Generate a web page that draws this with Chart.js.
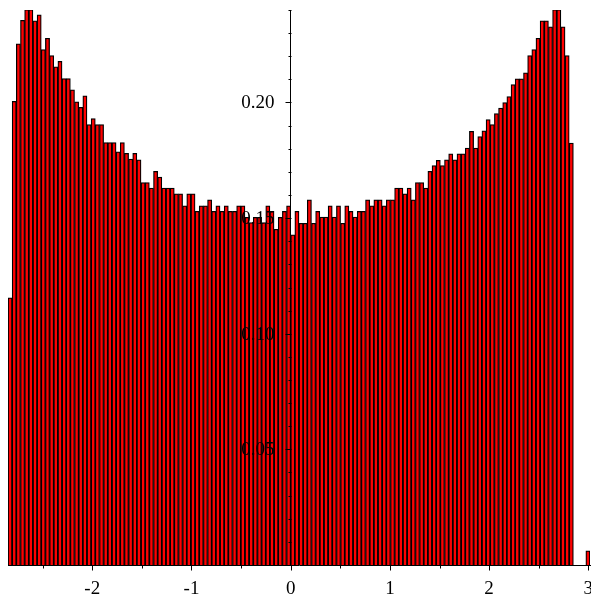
<!DOCTYPE html>
<html>
<head>
<meta charset="utf-8">
<script src="https://cdn.jsdelivr.net/npm/chart.js@4.4.1/dist/chart.umd.min.js"></script>
<style>
  html, body { margin: 0; padding: 0; background: #fff; }
  canvas { display: block; }
</style>
</head>
<body>
<canvas id="histo" width="591" height="595"></canvas>
<script>
// histogram bins: 140 equal bins, bin 68 starts at 0
const binWidth = 0.0419;
const binFirstIndex = -68;
const binCount = 140;

// bar heights (density), left to right
const density = [
  0.1155, 0.2005, 0.2254, 0.2355, 0.2402, 0.2402, 0.2353, 0.2379, 0.2229, 0.2278,
  0.2203, 0.2154, 0.2178, 0.2103, 0.2103, 0.2055, 0.2003, 0.1979, 0.2029, 0.1904,
  0.1930, 0.1904, 0.1904, 0.1827, 0.1827, 0.1827, 0.1787, 0.1827, 0.1780, 0.1755,
  0.1780, 0.1752, 0.1654, 0.1654, 0.1630, 0.1702, 0.1677, 0.1630, 0.1630, 0.1630,
  0.1605, 0.1605, 0.1553, 0.1605, 0.1605, 0.1529, 0.1553, 0.1553, 0.1579, 0.1529,
  0.1553, 0.1529, 0.1553, 0.1529, 0.1529, 0.1553, 0.1553, 0.1503, 0.1481, 0.1503,
  0.1503, 0.1481, 0.1553, 0.1529, 0.1452, 0.1503, 0.1529, 0.1553, 0.1428, 0.1529,
  0.1478, 0.1478, 0.1579, 0.1478, 0.1529, 0.1504, 0.1504, 0.1553, 0.1504, 0.1553,
  0.1478, 0.1553, 0.1529, 0.1504, 0.1529, 0.1529, 0.1579, 0.1553, 0.1579, 0.1579,
  0.1553, 0.1579, 0.1579, 0.1630, 0.1630, 0.1605, 0.1630, 0.1579, 0.1654, 0.1654,
  0.1630, 0.1702, 0.1727, 0.1750, 0.1727, 0.1752, 0.1778, 0.1752, 0.1778, 0.1778,
  0.1803, 0.1875, 0.1803, 0.1853, 0.1878, 0.1926, 0.1904, 0.1952, 0.1976, 0.2000,
  0.2026, 0.2077, 0.2102, 0.2102, 0.2128, 0.2203, 0.2229, 0.2278, 0.2353, 0.2353,
  0.2327, 0.2402, 0.2402, 0.2327, 0.2203, 0.1825, 0, 0, 0, 0.0061
];

// axis ticks
const xMajorStep = 1;
const xMinorStep = 0.5;
const yMajorStep = 0.05;
const yMinorStep = 0.01;
const yMax = 0.24;

const binCenters = [];
for (let i = 0; i < binCount; i++) {
  binCenters.push((binFirstIndex + i + 0.5) * binWidth);
}
const xMin = binFirstIndex * binWidth;
const xMax = (binFirstIndex + binCount) * binWidth;

const tickFont = { family: "Liberation Serif", size: 19 };

// no extra room for labels hanging past the plot edges
const noScalePadding = scale => {
  scale.paddingTop = 0;
  scale.paddingBottom = 0;
  scale.paddingLeft = 0;
  scale.paddingRight = 0;
};

// tick marks on both axes, and the y labels left of the x=0 axis
const axisDecor = {
  id: "axisDecor",
  afterDraw(chart){
    const { ctx, scales: { x, y } } = chart;
    const x0 = Math.round(x.getPixelForValue(0)) + 0.5;
    const y0 = Math.round(y.getPixelForValue(0)) + 0.5;
    ctx.save();
    ctx.strokeStyle = "#000";
    ctx.lineWidth = 1;
    ctx.beginPath();
    for (let k = Math.ceil(xMin / xMinorStep); k * xMinorStep <= xMax; k++) {
      const px = Math.round(x.getPixelForValue(k * xMinorStep)) + 0.5;
      const len = (k % 2 === 0) ? 5 : 3;
      ctx.moveTo(px, y0);
      ctx.lineTo(px, y0 + len);
    }
    for (let k = 1; k * yMinorStep <= yMax + 1e-9; k++) {
      const py = Math.round(y.getPixelForValue(k * yMinorStep)) + 0.5;
      const len = (k % 5 === 0) ? 6 : 3;
      ctx.moveTo(x0, py);
      ctx.lineTo(x0 - len, py);
    }
    ctx.stroke();

    ctx.fillStyle = "#000";
    ctx.font = tickFont.size + "px '" + tickFont.family + "'";
    ctx.textAlign = "right";
    ctx.textBaseline = "middle";
    y.ticks.forEach(t => {
      if (t.value <= 0) return;
      ctx.fillText(t.value.toFixed(2), x0 - 17, y.getPixelForValue(t.value) + 1);
    });
    ctx.restore();
  }
};

new Chart(document.getElementById("histo"), {
  type: "bar",
  data: {
    datasets: [{
      data: binCenters.map((c, i) => ({ x: c, y: density[i] })),
      backgroundColor: "#ff0000",
      borderColor: "#000000",
      borderWidth: 1.25,
      borderSkipped: "start",
      categoryPercentage: 1,
      barPercentage: 1
    }]
  },
  options: {
    responsive: false,
    animation: false,
    devicePixelRatio: 1,
    layout: { padding: { left: 8, right: 1, top: 10, bottom: 30 } },
    plugins: {
      legend: { display: false },
      tooltip: { enabled: false }
    },
    scales: {
      x: {
        type: "linear",
        min: xMin,
        max: xMax,
        offset: false,
        position: { y: 0 },
        z: 1,
        afterFit: noScalePadding,
        grid: { display: false, drawTicks: false, offset: false },
        border: { display: true, color: "#000", width: 1 },
        ticks: {
          stepSize: xMajorStep,
          includeBounds: false,
          autoSkip: false,
          maxRotation: 0,
          padding: 13,
          color: "#000",
          font: tickFont,
          callback: v => String(v)
        }
      },
      y: {
        type: "linear",
        min: 0,
        max: yMax,
        position: { x: 0 },
        z: 1,
        afterFit: noScalePadding,
        grid: { display: false, drawTicks: false },
        border: { display: true, color: "#000", width: 1 },
        ticks: {
          display: false,
          stepSize: yMajorStep,
          includeBounds: false
        }
      }
    }
  },
  plugins: [axisDecor]
});
</script>
</body>
</html>
